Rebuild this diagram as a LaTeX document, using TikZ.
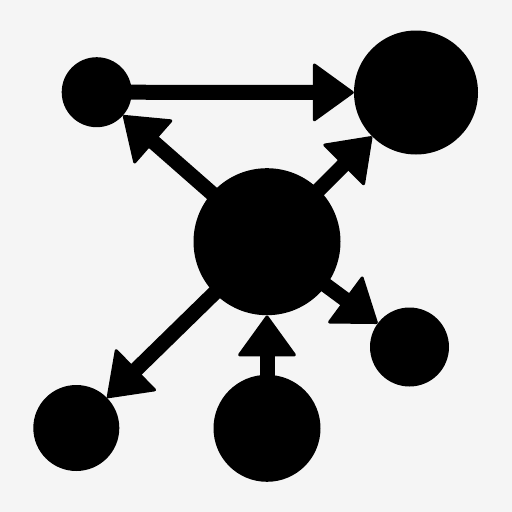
\documentclass[tikz,border=0pt]{standalone}
\usetikzlibrary{arrows.meta}
\definecolor{bg}{HTML}{F5F5F5}
\tikzset{
  dot/.style={circle, fill=black, draw=none, inner sep=0pt, minimum size=#1},
  link/.style={draw=black, line width=15pt,
    -{Triangle[length=42pt,width=60pt,line width=3pt,round]}},
}
\begin{document}
\begin{tikzpicture}[x=1pt,y=-1pt]
\fill[bg] (0,0) rectangle (512,512);
\useasboundingbox (0,0) rectangle (512,512);
\node[dot=70pt]  (tl) at (96.7,92.2) {};
\node[dot=124pt] (tr) at (416,92.5) {};
\node[dot=147pt] (c)  at (267,241.7) {};
\node[dot=79pt]  (br) at (409.5,347) {};
\node[dot=86pt]  (bl) at (76.3,428) {};
\node[dot=107pt] (bm) at (267,428.3) {};
\draw[link] (tl.center) -- (tr);
\draw[link] (c.center) -- (tl);
\draw[link] (c.center) -- (tr);
\draw[link] (c.center) -- (br);
\draw[link] (c.center) -- (bl);
\draw[link] (bm.center) -- (c);
\end{tikzpicture}
\end{document}
